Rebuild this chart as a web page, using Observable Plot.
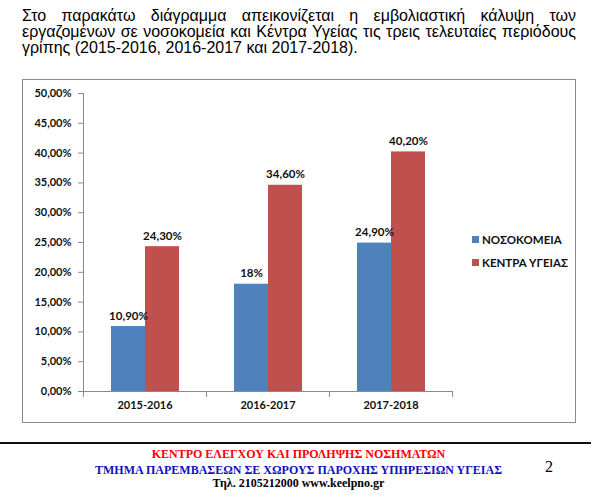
<!DOCTYPE html>
<html>
<head>
<meta charset="utf-8">
<script src="https://cdn.jsdelivr.net/npm/d3@7"></script>
<script src="https://cdn.jsdelivr.net/npm/@observablehq/plot@0.6"></script>
<style>
  html, body { margin: 0; padding: 0; background: #fff; }
  body { position: relative; width: 611px; height: 502px; overflow: hidden; }
  .tl { position: absolute; left: 22px; width: 554px; font-family: "Liberation Sans", Arial, sans-serif; font-size: 16px; line-height: 16px; color: #000; white-space: nowrap; }
  .just { text-align: justify; text-align-last: justify; white-space: normal; }
  #box { position: absolute; left: 22px; top: 79px; width: 554px; height: 344px; box-sizing: border-box; border: 1px solid #8c8c8c; }
  #chart { position: absolute; left: 22px; top: 79px; }
  .leg { position: absolute; left: 472px; display: flex; align-items: center; height: 14px; font-family: Lato, "Open Sans", sans-serif; font-weight: bold; font-size: 11.5px; color: #111; white-space: nowrap; }
  .sw { width: 7px; height: 7px; margin-right: 3px; }
  .ft { position: absolute; left: 0; width: 597px; text-align: center; font-family: "Liberation Serif", "Times New Roman", serif; font-weight: bold; font-size: 12px; line-height: 12px; white-space: nowrap; }
</style>
</head>
<body>
<div class="tl just" style="top:7.5px">Στο παρακάτω διάγραμμα απεικονίζεται η εμβολιαστική κάλυψη των</div>
<div class="tl just" style="top:23.5px">εργαζομένων σε νοσοκομεία και Κέντρα Υγείας τις τρεις τελευταίες περιόδους</div>
<div class="tl" style="top:39.5px">γρίπης (2015-2016, 2016-2017 και 2017-2018).</div>
<div id="box"></div>
<div id="chart"></div>
<div id="legend"></div>
<div style="position:absolute;left:0;top:442px;width:591px;height:2px;background:#111"></div>
<div class="ft" style="top:448px;color:#ff0000">ΚΕΝΤΡΟ ΕΛΕΓΧΟΥ ΚΑΙ ΠΡΟΛΗΨΗΣ ΝΟΣΗΜΑΤΩΝ</div>
<div class="ft" style="top:464px;color:#1010c0">ΤΜΗΜΑ ΠΑΡΕΜΒΑΣΕΩΝ ΣΕ ΧΩΡΟΥΣ ΠΑΡΟΧΗΣ ΥΠΗΡΕΣΙΩΝ ΥΓΕΙΑΣ</div>
<div class="ft" style="top:477px;color:#000">Τηλ. 2105212000 www.keelpno.gr</div>
<div style="position:absolute;left:545px;top:458.5px;font-family:'Liberation Serif',serif;font-size:16px;line-height:16px;color:#000">2</div>
<script>
const periods = ["2015-2016", "2016-2017", "2017-2018"];
const series = ["ΝΟΣΟΚΟΜΕΙΑ", "ΚΕΝΤΡΑ ΥΓΕΙΑΣ"];
const hospitals = [10.9, 18, 24.9];
const healthCenters = [24.3, 34.6, 40.2];
const hospitalLabels = ["10,90%", "18%", "24,90%"];
const healthCenterLabels = ["24,30%", "34,60%", "40,20%"];
const yTicks = [0, 5, 10, 15, 20, 25, 30, 35, 40, 45, 50];
const colors = ["#4F81BD", "#C0504D"];

const rows = [];
periods.forEach((p, i) => {
  rows.push({period: p, series: series[0], value: hospitals[i], label: hospitalLabels[i]});
  rows.push({period: p, series: series[1], value: healthCenters[i], label: healthCenterLabels[i]});
});

const fmt = d => d.toFixed(2).replace(".", ",") + "%";
const axisGray = "#8a8a8a";

const chart = Plot.plot({
  width: 554,
  height: 344,
  marginLeft: 60,
  marginRight: 124,
  marginTop: 14,
  marginBottom: 32,
  style: {fontFamily: "Lato, 'Open Sans', sans-serif", fontSize: "11px", background: "transparent", overflow: "visible", color: "#111"},
  fx: {domain: periods, padding: 0, axis: null},
  x: {domain: series, paddingInner: 0, paddingOuter: 0.762, axis: null},
  y: {domain: [0, 50], axis: null},
  color: {domain: series, range: colors},
  marks: [
    Plot.frame({anchor: "left", stroke: axisGray, insetTop: 298, insetBottom: -5}),
    Plot.frame({anchor: "right", stroke: axisGray, insetTop: 298, insetBottom: -5}),
    Plot.frame({anchor: "left", stroke: axisGray, facetAnchor: "left"}),
    Plot.barY(rows, {fx: "period", x: "series", y: "value", fill: "series"}),
    Plot.ruleY([0], {stroke: axisGray}),
    Plot.text(rows, {fx: "period", x: "series", y: "value", text: "label", lineAnchor: "bottom", dy: -7, fontWeight: "bold", fontSize: 11.5, fill: "#111"}),
    Plot.axisY({ticks: yTicks, tickFormat: fmt, tickSize: 5, tickPadding: 7, stroke: axisGray, fill: "#111", fontWeight: "bold", label: null}),
    Plot.axisFx({anchor: "bottom", tickSize: 0, tickPadding: 10, label: null, fontWeight: "bold", fill: "#111"})
  ]
});
document.getElementById("chart").appendChild(chart);

const legend = document.getElementById("legend");
const legendTops = [232, 255];
series.forEach((s, i) => {
  const row = document.createElement("div");
  row.className = "leg";
  row.style.top = legendTops[i] + "px";
  const sw = document.createElement("span");
  sw.className = "sw";
  sw.style.background = colors[i];
  row.appendChild(sw);
  row.appendChild(document.createTextNode(s));
  legend.appendChild(row);
});
</script>
</body>
</html>
